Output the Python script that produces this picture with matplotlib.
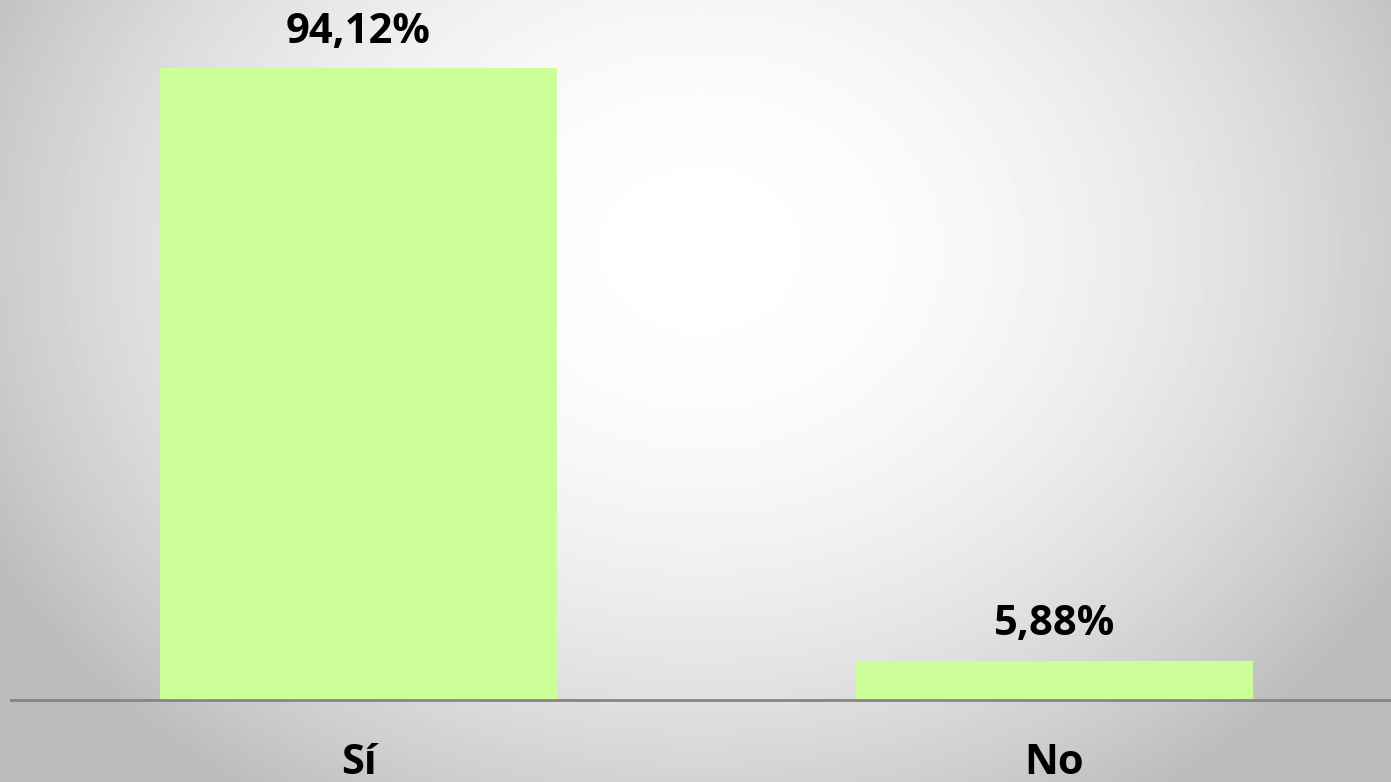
import numpy as np
import matplotlib.pyplot as plt

categorias = ['Sí', 'No']
valores = [94.12, 5.88]
etiquetas = ['94,12%', '5,88%']

W, H = 1391, 782
fig = plt.figure(figsize=(W / 100, H / 100), dpi=100)

# fondo con degradado radial (blanco en el centro, gris en los bordes)
bg = fig.add_axes([0, 0, 1, 1], zorder=0)
yy, xx = np.mgrid[0:H, 0:W]
d2 = ((xx - 700) / 780.0) ** 2 + ((yy - 250) / 640.0) ** 2
gris = 1 - 0.25 * np.clip(d2, 0, 1.05)
bg.imshow(gris, cmap='gray', vmin=0, vmax=1, aspect='auto', extent=[0, W, H, 0])
bg.axis('off')

ax = fig.add_axes([10.5 / W, 82 / H, 1392 / W, 671.5 / H], zorder=1)
ax.patch.set_alpha(0)
x = np.arange(len(categorias))
barras = ax.bar(x, valores, width=0.57, color='#ccff99', zorder=2)
ax.set_xlim(-0.5, 1.5)
ax.set_ylim(0, 100)

for b, t in zip(barras, etiquetas):
    ax.annotate(t, (b.get_x() + b.get_width() / 2, b.get_height()),
                xytext=(0, 11), textcoords='offset points', ha='center', va='bottom',
                fontsize=30, fontweight='bold', family='Open Sans')

ax.set_xticks(x)
ax.set_xticklabels(categorias, fontsize=30, fontweight='bold', family='Open Sans')
ax.tick_params(axis='x', length=0, pad=31)
ax.set_yticks([])
for s in ['top', 'right', 'left']:
    ax.spines[s].set_visible(False)
ax.spines['bottom'].set_color('#868686')
ax.spines['bottom'].set_linewidth(2)

fig.savefig('out.png', dpi=100)
